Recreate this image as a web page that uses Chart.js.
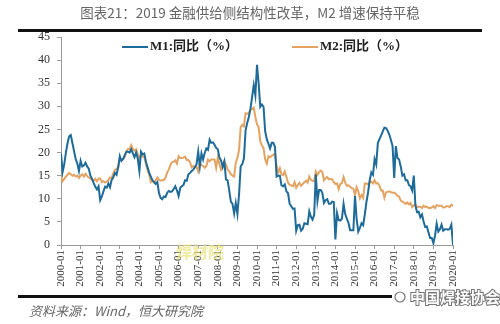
<!DOCTYPE html>
<html>
<head>
<meta charset="utf-8">
<script src="https://cdn.jsdelivr.net/npm/chart.js@4/dist/chart.umd.min.js"></script>
<style>
  html, body { margin: 0; padding: 0; background: #fff; }
  #wrap { position: relative; width: 500px; height: 324px; }
</style>
</head>
<body>
<div id="wrap"><canvas id="moneyChart" width="500" height="324"></canvas></div>
<script>
// year tick labels on the x axis (one per January)
const tickLabels = ['2000-01', '2001-01', '2002-01', '2003-01', '2004-01', '2005-01', '2006-01',
    '2007-01', '2008-01', '2009-01', '2010-01', '2011-01', '2012-01', '2013-01', '2014-01',
    '2015-01', '2016-01', '2017-01', '2018-01', '2019-01', '2020-01'];

const seriesNames = ['M1:同比（%）', 'M2:同比（%）'];

// monthly values, 2000-01 .. 2020-01
const m1 = [
    19.8, 15.8, 17.5, 20.0, 22.0, 23.5, 23.8, 22.0, 20.3, 18.6, 17.6, 16.0,
    18.2, 17.0, 17.2, 17.8, 17.0, 16.5, 15.0, 14.3, 13.4, 12.6, 12.0, 12.7,
    9.7, 10.5, 11.6, 12.6, 12.4, 13.3, 12.5, 14.1, 14.6, 15.6, 15.2, 16.8,
    19.2, 18.2, 18.6, 19.4, 20.2, 20.2, 20.0, 20.7, 19.8, 19.0, 20.0, 18.7,
    16.0, 20.2, 19.6, 19.8, 18.0, 16.8, 15.6, 14.8, 14.0, 13.6, 13.2, 13.6,
    11.2, 10.2, 9.9, 10.5, 10.4, 11.3, 11.7, 11.5, 11.6, 12.1, 12.7, 11.8,
    10.6, 12.4, 12.7, 13.0, 14.0, 13.9, 15.3, 15.6, 16.0, 16.3, 16.8, 17.5,
    20.2, 17.0, 19.8, 18.5, 19.9, 20.9, 20.6, 22.8, 22.1, 22.2, 21.7, 21.0,
    20.7, 18.9, 18.3, 16.9, 18.1, 14.2, 14.0, 11.8, 9.4, 8.9, 6.8, 9.1,
    6.7, 10.9, 17.0, 17.5, 18.7, 24.8, 26.4, 27.7, 29.5, 32.0, 34.6, 32.4,
    39.0, 35.0, 29.9, 30.4, 29.9, 24.6, 22.9, 21.9, 20.9, 22.1, 22.1, 21.2,
    14.8, 15.0, 15.0, 12.9, 12.7, 13.1, 11.6, 11.2, 8.9, 8.4, 7.8, 7.9,
    3.1, 4.3, 4.4, 3.1, 3.5, 4.7, 4.6, 4.5, 7.3, 6.1, 5.5, 6.5,
    15.3, 9.5, 11.9, 11.9, 11.3, 9.1, 9.7, 9.9, 8.9, 8.9, 9.4, 9.3,
    1.2, 6.9, 5.4, 5.3, 5.7, 8.9, 6.7, 5.7, 4.8, 3.2, 3.2, 3.2,
    10.6, 5.6, 2.9, 3.7, 4.7, 4.3, 6.6, 9.3, 11.4, 14.0, 15.7, 15.2,
    18.6, 17.4, 22.1, 22.9, 23.7, 24.6, 25.4, 25.3, 24.7, 23.9, 22.7, 21.4,
    14.5, 21.4, 18.8, 18.5, 17.0, 15.0, 15.3, 14.0, 14.0, 13.0, 12.7, 11.8,
    15.0, 8.5, 7.1, 7.2, 6.0, 6.6, 5.1, 3.9, 4.0, 2.7, 1.5, 1.5,
    0.4, 2.0, 4.6, 2.9, 3.4, 4.4, 3.1, 3.4, 3.4, 3.3, 3.5, 4.4,
    0.0
];

const m2 = [
    14.8, 13.8, 14.3, 14.8, 15.2, 15.6, 15.3, 15.0, 15.2, 14.8, 15.0, 14.5,
    15.0, 15.3, 14.8, 15.4, 14.9, 14.6, 14.4, 14.1, 13.9, 14.3, 13.8, 14.4,
    14.4, 13.6, 13.8, 13.5, 13.7, 14.0, 14.6, 14.5, 15.5, 16.2, 16.5, 16.8,
    18.6, 18.4, 18.5, 19.1, 20.2, 20.8, 20.7, 21.6, 20.7, 20.4, 20.7, 19.6,
    18.8, 19.4, 19.1, 19.1, 17.5, 16.2, 15.3, 13.6, 13.9, 13.5, 14.0, 14.6,
    14.1, 13.9, 14.0, 14.1, 14.6, 15.7, 16.3, 17.3, 17.9, 18.0, 18.3, 17.6,
    19.2, 18.8, 18.8, 18.9, 19.1, 18.4, 18.4, 17.9, 16.8, 17.1, 16.8, 16.9,
    15.9, 17.8, 17.3, 17.1, 16.7, 17.1, 18.5, 18.1, 18.5, 18.5, 18.5, 16.7,
    18.9, 17.5, 16.3, 16.9, 18.1, 17.4, 16.3, 16.0, 15.3, 15.0, 14.8, 17.8,
    18.8, 20.5, 25.5, 26.0, 25.7, 28.5, 28.4, 28.5, 29.3, 29.4, 29.7, 27.7,
    26.1, 25.5, 22.5, 21.5, 21.0, 18.5, 17.6, 19.2, 19.0, 19.3, 19.5, 19.7,
    17.2, 15.7, 16.6, 15.3, 15.1, 15.9, 14.7, 13.5, 13.0, 12.9, 12.7, 13.6,
    12.4, 13.0, 13.4, 12.8, 13.2, 13.6, 13.9, 13.5, 14.8, 14.1, 13.9, 13.8,
    15.9, 15.2, 15.7, 16.1, 15.8, 14.0, 14.5, 14.7, 14.2, 14.3, 14.2, 13.6,
    13.2, 13.3, 12.1, 13.2, 13.4, 14.7, 13.5, 12.8, 12.9, 12.6, 12.3, 12.2,
    10.8, 12.5, 11.6, 10.1, 10.8, 10.2, 13.3, 13.3, 13.1, 13.5, 13.7, 13.3,
    14.0, 13.3, 13.4, 12.8, 11.8, 11.8, 10.2, 11.4, 11.5, 11.6, 11.4, 11.3,
    11.3, 11.1, 10.6, 10.5, 9.6, 9.4, 9.2, 8.9, 9.2, 8.8, 9.1, 8.2,
    8.6, 8.8, 8.2, 8.3, 8.3, 8.0, 8.5, 8.2, 8.3, 8.0, 8.0, 8.1,
    8.4, 8.0, 8.6, 8.5, 8.5, 8.5, 8.1, 8.2, 8.4, 8.4, 8.2, 8.7,
    8.4
];

const M1_COLOR = '#1e6a98';
const M2_COLOR = '#e3a463';
const SERIF = '"Liberation Serif", "Times New Roman", "Noto Sans CJK SC", serif';

/**
 * Title, rules, source note, legend and watermarks drawn straight on the canvas
 */
const decorations = {
    id: 'decorations',
    afterDraw(chart) {
        const ctx = chart.ctx;
        ctx.save();

        // title
        ctx.fillStyle = '#666';
        ctx.font = '13.5px "Noto Sans CJK SC", sans-serif';
        ctx.textAlign = 'center';
        ctx.textBaseline = 'middle';
        ctx.fillText('图表21：2019 金融供给侧结构性改革，M2 增速保持平稳', 250, 13);

        // thick rules
        ctx.fillStyle = '#111';
        ctx.fillRect(18, 29, 464, 3);
        ctx.fillRect(18, 295, 374, 3);

        // source note
        ctx.fillStyle = '#666';
        ctx.font = 'italic 13px "Noto Sans CJK SC", sans-serif';
        ctx.textAlign = 'left';
        ctx.fillText('资料来源：Wind，恒大研究院', 29, 311);

        // legend
        const legend = [[122, 47, M1_COLOR, seriesNames[0]], [292, 47, M2_COLOR, seriesNames[1]]];
        legend.forEach(([x, y, color, label]) => {
            ctx.strokeStyle = color;
            ctx.lineWidth = 2;
            ctx.beginPath();
            ctx.moveTo(x, y);
            ctx.lineTo(x + 26, y);
            ctx.stroke();
            ctx.fillStyle = '#222';
            ctx.font = 'bold 13px ' + SERIF;
            ctx.fillText(label, x + 28, y);
        });

        // watermarks
        ctx.fillStyle = 'rgba(232, 226, 120, 0.7)';
        ctx.font = 'bold 16px "Noto Sans CJK SC", sans-serif';
        ctx.fillText('焊材院', 176, 252);

        ctx.font = 'bold 15px "Noto Sans CJK SC", sans-serif';
        ctx.lineWidth = 2;
        ctx.strokeStyle = '#777';
        ctx.strokeText('中国焊接协会', 410, 297);
        ctx.fillStyle = '#fff';
        ctx.fillText('中国焊接协会', 410, 297);
        ctx.beginPath();
        ctx.arc(400, 297, 5, 0, Math.PI * 2);
        ctx.lineWidth = 1.2;
        ctx.stroke();

        ctx.restore();
    }
};

const ctx = document.getElementById('moneyChart').getContext('2d');

new Chart(ctx, {
    type: 'line',
    data: {
        datasets: [
            {
                label: seriesNames[0],
                data: m1.map((v, i) => ({ x: i, y: v })),
                borderColor: M1_COLOR,
                borderWidth: 2,
                pointRadius: 0,
                tension: 0
            },
            {
                label: seriesNames[1],
                data: m2.map((v, i) => ({ x: i, y: v })),
                borderColor: M2_COLOR,
                borderWidth: 2,
                pointRadius: 0,
                tension: 0
            }
        ]
    },
    options: {
        responsive: false,
        animation: false,
        devicePixelRatio: 1,
        layout: {
            padding: { top: 37, left: 21, right: 47, bottom: 0 }
        },
        plugins: {
            legend: { display: false },
            tooltip: { enabled: false }
        },
        scales: {
            x: {
                type: 'linear',
                min: 0,
                max: 240,
                afterFit: (scale) => { scale.height = 79; },
                grid: {
                    drawOnChartArea: false,
                    drawTicks: true,
                    tickLength: 4,
                    color: '#9a9a9a'
                },
                border: { color: '#9a9a9a' },
                ticks: {
                    stepSize: 12,
                    autoSkip: false,
                    minRotation: 90,
                    maxRotation: 90,
                    padding: 1,
                    color: '#333',
                    font: { family: SERIF, size: 11 },
                    callback: (value) => tickLabels[value / 12]
                }
            },
            y: {
                min: 0,
                max: 45,
                afterFit: (scale) => { scale.width = 40; },
                grid: {
                    drawOnChartArea: false,
                    drawTicks: true,
                    tickLength: 4,
                    color: '#9a9a9a'
                },
                border: { color: '#9a9a9a' },
                ticks: {
                    stepSize: 5,
                    padding: 7,
                    color: '#333',
                    font: { family: SERIF, size: 12 }
                }
            }
        }
    },
    plugins: [decorations]
});
</script>
</body>
</html>
